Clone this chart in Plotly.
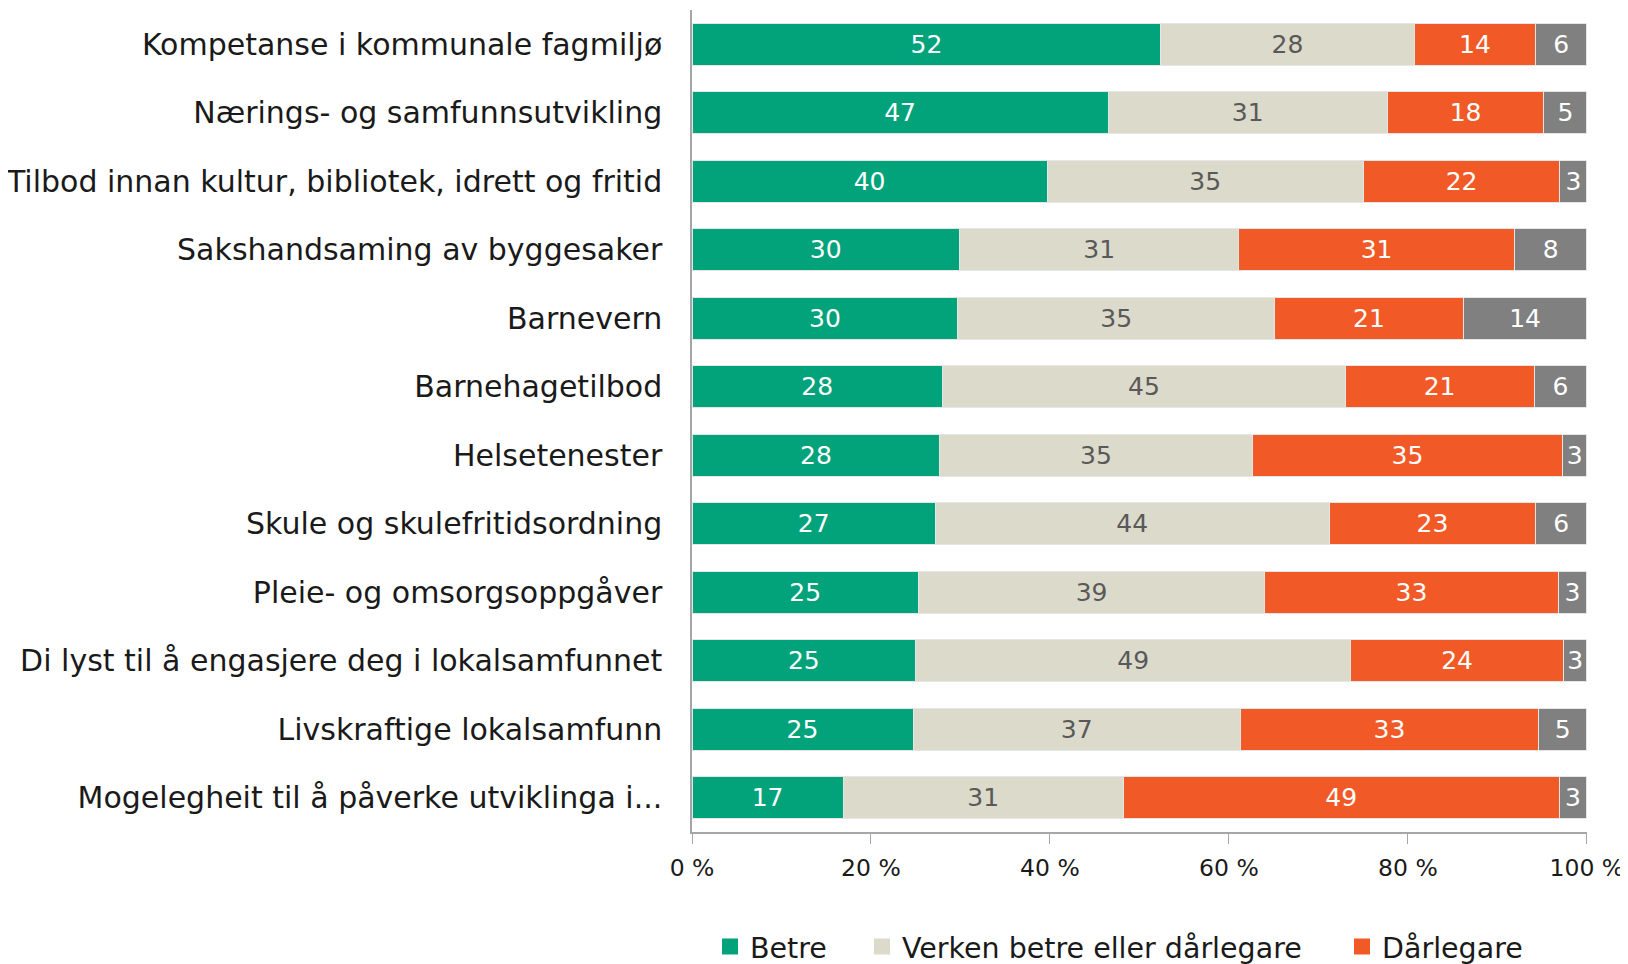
import plotly.graph_objects as go

categories = [
    "Kompetanse i kommunale fagmiljø",
    "Nærings- og samfunnsutvikling",
    "Tilbod innan kultur, bibliotek, idrett og fritid",
    "Sakshandsaming av byggesaker",
    "Barnevern",
    "Barnehagetilbod",
    "Helsetenester",
    "Skule og skulefritidsordning",
    "Pleie- og omsorgsoppgåver",
    "Di lyst til å engasjere deg i lokalsamfunnet",
    "Livskraftige lokalsamfunn",
    "Mogelegheit til å påverke utviklinga i...",
]
betre = [52.4, 46.5, 39.7, 29.9, 29.7, 28.0, 27.7, 27.2, 25.3, 25.0, 24.7, 16.9]
verken = [28.3, 31.2, 35.3, 31.2, 35.4, 45.0, 34.9, 44.0, 38.7, 48.6, 36.6, 31.3]
darlegare = [13.6, 17.5, 22.0, 30.8, 21.1, 21.1, 34.7, 23.1, 32.8, 23.8, 33.3, 48.7]
veit_ikkje = [5.7, 4.8, 3.0, 8.1, 13.8, 5.9, 2.7, 5.7, 3.2, 2.6, 5.4, 3.1]
tick_vals = [0, 20, 40, 60, 80, 100]
tick_text = ["0 %", "20 %", "40 %", "60 %", "80 %", "100 %"]

series = [
    ("Betre", betre, "#02A37B", "white", "legend"),
    ("Verken betre eller dårlegare", verken, "#DCDACB", "#595959", "legend2"),
    ("Dårlegare", darlegare, "#F15A27", "white", "legend3"),
    ("Veit ikkje", veit_ikkje, "#808080", "white", None),
]

FONT = "Century Gothic, URW Gothic, DejaVu Sans, sans-serif"

fig = go.Figure()
for name, vals, color, tcol, leg in series:
    fig.add_trace(go.Bar(
        y=categories, x=vals, name=name, orientation="h",
        marker=dict(color=color, line=dict(color="#E6E6E6", width=1)),
        texttemplate="%{x:.0f}", textposition="inside", insidetextanchor="middle",
        textfont=dict(color=tcol, size=25, family=FONT),
        showlegend=False, cliponaxis=False,
    ))
    if leg:
        fig.add_trace(go.Scatter(
            x=[None], y=[None], mode="markers", name=name, legend=leg,
            marker=dict(symbol="square", size=16, color=color),
            showlegend=True,
        ))

W, H = 1620, 956
L, R, T, B = 684, 41, 2, 132
pw, ph = W - L - R, H - T - B

def lx(px):
    return (px - L) / pw

leg_y = (H - B - 939) / ph
legfont = dict(size=28.5, family=FONT, color="#1a1a1a")
common = dict(orientation="h", xanchor="left", yanchor="middle", y=leg_y,
              font=legfont, itemwidth=30, bgcolor="rgba(0,0,0,0)")

fig.update_layout(
    barmode="stack", bargap=0.38,
    width=W, height=H,
    paper_bgcolor="white", plot_bgcolor="white",
    margin=dict(l=L, r=R, t=T, b=B, autoexpand=False),
    font=dict(family=FONT, color="#1a1a1a"),
    uniformtext=dict(minsize=25, mode="show"),
    legend=dict(x=lx(702), **common),
    legend2=dict(x=lx(854), **common),
    legend3=dict(x=lx(1334), **common),
)
fig.update_xaxes(range=[0, 100.02], tickvals=tick_vals, ticktext=tick_text,
                 showgrid=False, zeroline=False, showline=True, linecolor="#A6A6A6",
                 linewidth=1.5, ticks="outside", tickcolor="#A6A6A6", ticklen=10,
                 ticklabeloverflow="allow", ticklabelstandoff=4,
                 tickfont=dict(size=23.5, family=FONT, color="#1a1a1a"), automargin=False)
fig.update_yaxes(autorange="reversed", showgrid=False, showline=True, linecolor="#A6A6A6",
                 linewidth=1.5, ticks="", ticklabelstandoff=22,
                 tickfont=dict(size=30, family=FONT, color="#1a1a1a"), automargin=False)

fig.write_html("out.html")
